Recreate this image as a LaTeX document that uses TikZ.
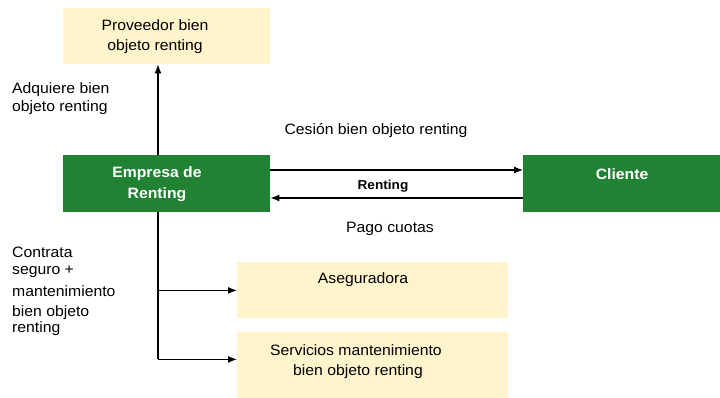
\documentclass[tikz,border=0pt]{standalone}
\usepackage{fontspec}
\setmainfont{Liberation Sans}[FakeStretch=1.05]
\usetikzlibrary{arrows.meta,calc}
\definecolor{cream}{HTML}{FFF4CC}
\definecolor{rgreen}{HTML}{218233}
\begin{document}
\begin{tikzpicture}[x=1pt,y=-1pt,
  txt/.style={font=\fontsize{15}{20}\selectfont, inner sep=0pt, align=center},
  lbl/.style={font=\fontsize{15}{18}\selectfont, inner sep=0pt, align=left, anchor=north west},
  paleBox/.style={fill=cream, draw=none, anchor=north west, inner sep=0pt},
  greenBox/.style={fill=rgreen, draw=none, anchor=north west, inner sep=0pt},
  wtxt/.style={font=\fontsize{15}{21}\selectfont\bfseries, text=white, inner sep=0pt, align=center},
  link/.style={line width=1.2pt, -{Latex[length=9pt,width=7pt]}},
  plain/.style={line width=1.2pt}]
\useasboundingbox (0,0) rectangle (720,398);

% boxes
\node[paleBox, minimum width=207pt, minimum height=56pt] (prov) at (63,8) {};
\node[greenBox, minimum width=207pt, minimum height=57pt] (emp) at (63,155) {};
\node[greenBox, minimum width=197pt, minimum height=57pt] (cli) at (523,155) {};
\node[paleBox, minimum width=271pt, minimum height=56pt] (aseg) at (237,262) {};
\node[paleBox, minimum width=271pt, minimum height=66pt] (serv) at (237,332) {};

% box texts
\node[txt] (provt) at (155,37) {Proveedor bien\\objeto renting};
\node[wtxt] (empt) at (157,184) {Empresa de\\Renting};
\node[wtxt] (clit) at (622,174) {Cliente};
\node[txt] (asegt) at (363,280) {Aseguradora};
\node[txt] (servt) at (356,362) {Servicios mantenimiento\\\hspace*{4pt}bien objeto renting};

% free labels
\node[lbl] (adq) at (12,82) {Adquiere bien\\objeto renting};
\node[txt] (ces) at (376,131) {Cesión bien objeto renting};
\node[txt, font=\fontsize{13}{16}\selectfont\bfseries] (rent) at (383,186) {Renting};
\node[txt] (pago) at (390,229) {Pago cuotas};
\node[lbl] (contr) at (12,247) {Contrata\\[-1pt]seguro +\\[4pt]mantenimiento\\[2pt]bien objeto\\[-2pt]renting};

% connectors
\coordinate (empUp) at ($(emp.north west)+(95,0)$);
\coordinate (provDn) at ($(prov.south west)+(95,0)$);
\draw[link] (empUp) -- (provDn);

\draw[link] ($(emp.north east)+(0,15)$) -- ($(cli.north west)+(0,15)$);
\draw[link] ($(cli.north west)+(0,43)$) -- ($(emp.north east)+(0,43)$);

\coordinate (empDn) at ($(emp.south west)+(95,0)$);
\coordinate (split) at ($(empDn)+(0,78)$);
\coordinate (corner) at ($(empDn)+(0,147)$);
\draw[plain] (empDn) -- (corner);
\draw[link] (split) -- (split -| aseg.west);
\draw[link] (corner) -- (corner -| serv.west);
\end{tikzpicture}
\end{document}
